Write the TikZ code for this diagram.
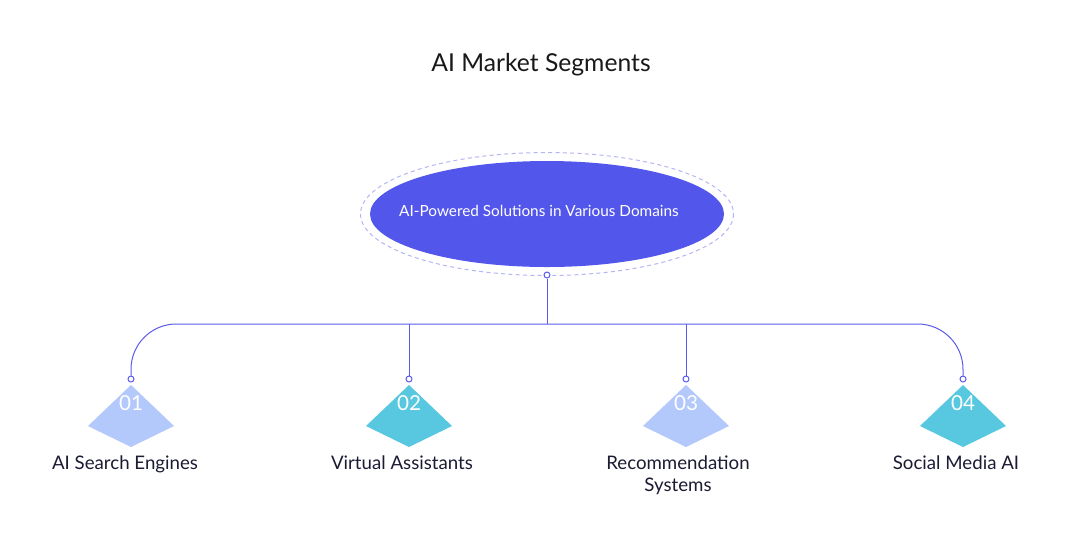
\documentclass[tikz,border=0pt]{standalone}
\usepackage{fontspec}
\setmainfont{Lato}
\usetikzlibrary{shapes.geometric}
\definecolor{hub}{HTML}{5356EA}
\definecolor{lnk}{HTML}{5B5CEA}
\definecolor{dsh}{HTML}{B4B5F6}
\definecolor{lite}{HTML}{B3C8FB}
\definecolor{teal}{HTML}{58C8E0}
\definecolor{ink}{HTML}{1B1B33}
\tikzset{
  conn/.style={draw=lnk, line width=0.75pt},
  dot/.style={circle, draw=lnk, fill=white, line width=0.75pt, inner sep=0pt, minimum size=4.5pt},
  numtxt/.style={text=white, font=\fontsize{15.5pt}{17pt}\selectfont, anchor=base, inner sep=0pt},
  lbl/.style={text=ink, font=\fontsize{14pt}{16.5pt}\selectfont, align=center, anchor=base, inner sep=0pt},
}
\begin{document}
\begin{tikzpicture}[x=0.75pt,y=-0.75pt]
\path[use as bounding box, fill=white] (0,0) rectangle (1070,537);
\node[text=black!90, font=\fontsize{18.5pt}{20pt}\selectfont, anchor=base] (title) at (541,71.5) {AI Market Segments};
% hub
\draw[dsh, dashed, line width=0.75pt, dash pattern=on 3pt off 2.5pt] (547,214) ellipse [x radius=186.5, y radius=61.5];
\node[ellipse, fill=hub, minimum width=354*0.75pt, minimum height=106*0.75pt, inner sep=0pt] (hubnode) at (547,214) {};
\node[text=white, font=\fontsize{11.5pt}{14pt}\selectfont, anchor=base] (hubtxt) at (539,216) {AI-Powered Solutions in Various Domains};
\node[dot] (hc) at (547,275) {};
\coordinate (hj) at (547,324);
% items
\foreach \i/\x/\c/\n in {1/131/lite/01, 2/409/teal/02, 3/686/lite/03, 4/963/teal/04}{
  \fill[\c] (\x,385) -- (\x+43,426) -- (\x,447) -- (\x-43,426) -- cycle;
  \node[numtxt] (n\i) at (\x,410) {\n};
  \node[dot] (c\i) at (\x,379) {};
}
\node[lbl] (l1) at (125,469) {AI Search Engines};
\node[lbl] (l2) at (402,469) {Virtual Assistants};
\node[lbl] (l3) at (678,491) {Recommendation\\Systems};
\node[lbl] (l4) at (956,469) {Social Media AI};
% connectors
\draw[conn] (hc) -- (hj);
\draw[conn, rounded corners=34pt] (c1.north) |- (hj) -| (c4.north);
\draw[conn] (c2.north) -- (c2.north |- hj);
\draw[conn] (c3.north) -- (c3.north |- hj);
\end{tikzpicture}
\end{document}
